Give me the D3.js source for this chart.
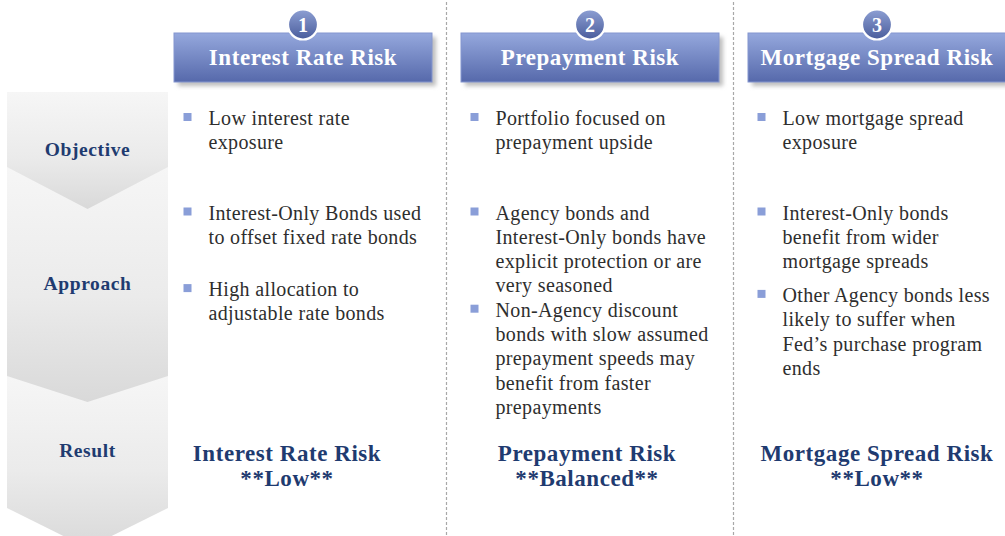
<!DOCTYPE html>
<html>
<head>
<meta charset="utf-8">
<style>
  body { margin: 0; background: #fff; }
  svg { display: block; }
  .hdr { font: bold 23px "Liberation Serif", serif; fill: #fff; text-anchor: middle; letter-spacing: 0.55px; }
  .num { font: bold 20px "Liberation Serif", serif; fill: #fff; text-anchor: middle; }
  .row-label { font: bold 19.5px "Liberation Serif", serif; fill: #1f3b70; text-anchor: middle; letter-spacing: 0.6px; }
  .body { font: 20px "Liberation Serif", serif; fill: #2e2e2e; letter-spacing: 0.35px; }
  .result { font: bold 23px "Liberation Serif", serif; fill: #1f3b70; text-anchor: middle; letter-spacing: 0.55px; }
</style>
<script src="https://d3js.org/d3.v7.min.js"></script>
</head>
<body>
<svg width="1005" height="536"></svg>
<script>
// ---- data ----
var risks = ["Interest Rate Risk", "Prepayment Risk", "Mortgage Spread Risk"];
var stepNumbers = ["1", "2", "3"];
var rowLabels = ["Objective", "Approach", "Result"];
var objectives = [
  [["Low interest rate", "exposure"]],
  [["Portfolio focused on", "prepayment upside"]],
  [["Low mortgage spread", "exposure"]]
];
var approaches = [
  [["Interest-Only Bonds used", "to offset fixed rate bonds"],
   ["High allocation to", "adjustable rate bonds"]],
  [["Agency bonds and", "Interest-Only bonds have", "explicit protection or are", "very seasoned"],
   ["Non-Agency discount", "bonds with slow assumed", "prepayment speeds may", "benefit from faster", "prepayments"]],
  [["Interest-Only bonds", "benefit from wider", "mortgage spreads"],
   ["Other Agency bonds less", "likely to suffer when", "Fed\u2019s purchase program", "ends"]]
];
var results = ["**Low**", "**Balanced**", "**Low**"];

// ---- layout ----
var svg = d3.select("svg");
var W = 1005, H = 536;
var x = d3.scaleBand().domain(risks).range([159.5, 1020.5]);
var cx = function (d) { return x(d) + x.bandwidth() / 2; };
var lineH = 24.3;
var line = d3.scaleLinear().domain([0, 1]).range([0, lineH]);
var approachGap = [28, 0, 9.5];   // extra space between approach bullets
var resultShift = [-16, -3, 0];
var chevrons = [
  { top: 92, shoulder: 167, tip: 209 },
  { top: 167, shoulder: 376, tip: 402 },
  { top: 376, shoulder: 508, tip: 548 }
];
var labelY = [156, 290, 457];
var chevL = 7, chevR = 168;

var defs = svg.append("defs");

function vgrad(id, stops) {
  var g = defs.append("linearGradient").attr("id", id)
    .attr("x1", 0).attr("y1", 0).attr("x2", 0).attr("y2", 1);
  stops.forEach(function (s) {
    g.append("stop").attr("offset", s[0]).attr("stop-color", s[1]);
  });
}
vgrad("chev", [[0, "#f6f6f6"], [0.55, "#ebebeb"], [1, "#d9d9d9"]]);
vgrad("box", [[0, "#95a8dd"], [1, "#5669ab"]]);
vgrad("circ", [[0, "#8d9fd3"], [1, "#4a5d9c"]]);

var blur = defs.append("filter").attr("id", "blur")
  .attr("x", "-10%").attr("y", "-20%").attr("width", "120%").attr("height", "140%");
blur.append("feGaussianBlur").attr("stdDeviation", 2);

// ---- left chevrons (drawn bottom first) ----
var chevG = svg.append("g");
chevG.selectAll("path")
  .data(chevrons.slice().reverse())
  .enter().append("path")
  .attr("d", function (c) {
    var mid = (chevL + chevR) / 2;
    return "M" + chevL + "," + c.top + "L" + chevR + "," + c.top +
      "L" + chevR + "," + c.shoulder + "L" + mid + "," + c.tip +
      "L" + chevL + "," + c.shoulder + "Z";
  })
  .attr("fill", "url(#chev)");

svg.selectAll(".row-label")
  .data(rowLabels)
  .enter().append("text")
  .attr("class", "row-label")
  .attr("x", (chevL + chevR) / 2)
  .attr("y", function (d, i) { return labelY[i]; })
  .text(function (d) { return d; });

// ---- dotted dividers ----
svg.selectAll(".divider")
  .data(risks.slice(1))
  .enter().append("line")
  .attr("class", "divider")
  .attr("x1", function (d) { return x(d); })
  .attr("x2", function (d) { return x(d); })
  .attr("y1", 2).attr("y2", H)
  .attr("stroke", "#a8a8a8")
  .attr("stroke-width", 1.2)
  .attr("stroke-dasharray", "3,2");

// ---- header boxes ----
var boxW = 258, boxTop = 33, boxH = 49;
var hdr = svg.selectAll(".hdrg")
  .data(risks)
  .enter().append("g").attr("class", "hdrg");

hdr.append("rect")
  .attr("x", function (d) { return cx(d) - boxW / 2 + 4; })
  .attr("y", boxTop + 4)
  .attr("width", boxW).attr("height", boxH)
  .attr("fill", "#bdbdbd")
  .attr("filter", "url(#blur)");

hdr.append("rect")
  .attr("x", function (d) { return cx(d) - boxW / 2; })
  .attr("y", boxTop)
  .attr("width", boxW).attr("height", boxH)
  .attr("fill", "url(#box)")
  .attr("stroke", "#8496cf").attr("stroke-width", 1);

hdr.append("text")
  .attr("class", "hdr")
  .attr("x", cx)
  .attr("y", 65)
  .text(function (d) { return d; });

hdr.append("circle")
  .attr("cx", cx)
  .attr("cy", 24.5)
  .attr("r", 15)
  .attr("fill", "url(#circ)")
  .attr("stroke", "#fff").attr("stroke-width", 2.2);

hdr.append("text")
  .attr("class", "num")
  .attr("x", cx)
  .attr("y", 31.5)
  .text(function (d, i) { return stepNumbers[i]; });

// ---- bullet text ----
var items = [];
function addBlock(blocks, colIdx, startY, gap) {
  var n = 0;
  blocks.forEach(function (lines, b) {
    lines.forEach(function (t, k) {
      items.push({ col: colIdx, first: k === 0, text: t,
        y: startY + line(n) + gap * b });
      n++;
    });
  });
}
risks.forEach(function (r, i) {
  addBlock(objectives[i], i, 125, 0);
  addBlock(approaches[i], i, 219.5, approachGap[i]);
});

var bulletOff = 24, textOff = 49;
svg.selectAll(".bullet")
  .data(items.filter(function (d) { return d.first; }))
  .enter().append("rect")
  .attr("class", "bullet")
  .attr("x", function (d) { return x(risks[d.col]) + bulletOff; })
  .attr("y", function (d) { return d.y - 12; })
  .attr("width", 8).attr("height", 8)
  .attr("fill", "#8a9ed8");

svg.selectAll(".body")
  .data(items)
  .enter().append("text")
  .attr("class", "body")
  .attr("x", function (d) { return x(risks[d.col]) + textOff; })
  .attr("y", function (d) { return d.y; })
  .text(function (d) { return d.text; });

// ---- results ----
var res = svg.selectAll(".resg")
  .data(risks)
  .enter().append("g").attr("class", "resg");
res.append("text")
  .attr("class", "result")
  .attr("x", function (d, i) { return cx(d) + resultShift[i]; })
  .attr("y", 461)
  .text(function (d) { return d; });
res.append("text")
  .attr("class", "result")
  .attr("x", function (d, i) { return cx(d) + resultShift[i]; })
  .attr("y", 486)
  .text(function (d, i) { return results[i]; });
</script>
</body>
</html>
